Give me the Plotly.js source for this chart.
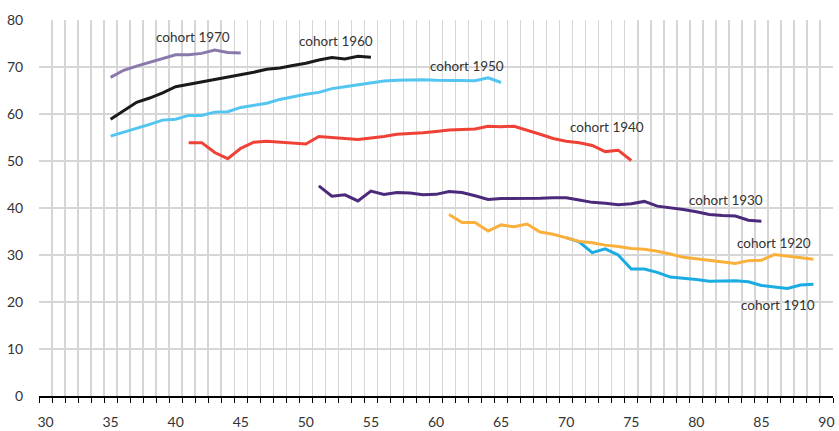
<!DOCTYPE html>
<html>
<head>
<meta charset="utf-8">
<script src="https://cdn.plot.ly/plotly-3.0.1.min.js"></script>
<style>html,body{margin:0;padding:0;background:#fff;}#chart{width:839px;height:431px;}</style>
</head>
<body>
<div id="chart"></div>
<script>
// ages (x) and percentages (y) per cohort
const age1970 = [35,36,37,38,39,40,41,42,43,44,45];
const val1970 = [67.8,69.3,70.2,71.0,71.8,72.6,72.6,72.9,73.6,73.1,73.0];

const age1960 = [35,36,37,38,39,40,41,42,43,44,45,46,47,48,49,50,51,52,53,54,55];
const val1960 = [58.9,60.7,62.5,63.4,64.5,65.8,66.3,66.9,67.4,67.9,68.4,68.9,69.5,69.8,70.3,70.8,71.5,72.0,71.7,72.3,72.1];

const age1950 = [35,36,37,38,39,40,41,42,43,44,45,46,47,48,49,50,51,52,53,54,55,56,57,58,59,60,61,62,63,64,65];
const val1950 = [55.3,56.1,57.0,57.8,58.7,58.9,59.7,59.7,60.4,60.5,61.4,61.9,62.3,63.1,63.7,64.2,64.6,65.4,65.8,66.2,66.5,67.0,67.2,67.3,67.3,67.2,67.2,67.1,67.1,67.7,66.7];

const age1940 = [41,42,43,44,45,46,47,48,49,50,51,52,53,54,55,56,57,58,59,60,61,62,63,64,65,66,67,68,69,70,71,72,73,74,75];
const val1940 = [53.9,53.9,51.8,50.5,52.7,54.0,54.2,54.0,53.8,53.6,55.2,55.0,54.7,54.6,54.9,55.2,55.7,55.8,56.0,56.3,56.6,56.7,56.8,57.4,57.3,57.4,56.6,55.7,54.8,54.2,53.9,53.3,52.0,52.3,50.1];

const age1930 = [51,52,53,54,55,56,57,58,59,60,61,62,63,64,65,66,67,68,69,70,71,72,73,74,75,76,77,78,79,80,81,82,83,84,85];
const val1930 = [44.7,42.5,42.8,41.5,43.6,42.9,43.3,43.2,42.8,42.9,43.5,43.3,42.6,41.8,42.0,42.0,42.0,42.1,42.2,42.2,41.7,41.2,41.0,40.7,40.9,41.4,40.4,40.1,39.7,39.2,38.6,38.4,38.3,37.4,37.2];

const age1920 = [61,62,63,64,65,66,67,68,69,70,71,72,73,74,75,76,77,78,79,80,81,82,83,84,85,86,87,88,89];
const val1920 = [38.6,36.9,36.9,35.1,36.4,36.0,36.6,34.9,34.4,33.7,32.9,32.6,32.1,31.8,31.4,31.2,30.8,30.2,29.5,29.2,28.9,28.5,28.2,28.8,28.9,30.1,29.8,29.5,29.1];

const age1910 = [70,71,72,73,74,75,76,77,78,79,80,81,82,83,84,85,86,87,88,89];
const val1910 = [33.7,32.8,30.5,31.3,30.0,27.0,27.0,26.3,25.3,25.1,24.8,24.4,24.5,24.5,24.3,23.5,23.2,22.9,23.6,23.8];

const cohortNames = ['cohort 1910','cohort 1920','cohort 1930','cohort 1940','cohort 1950','cohort 1960','cohort 1970'];
const xLabels = [30,35,40,45,50,55,60,65,70,75,80,85,90];
const yLabels = [0,10,20,30,40,50,60,70,80];
const yGrid = [10,20,30,40,50,60,70];

const series = [
  {x: age1910, y: val1910, color: '#1aace3'},
  {x: age1920, y: val1920, color: '#fbb03b'},
  {x: age1930, y: val1930, color: '#4b2a7b'},
  {x: age1940, y: val1940, color: '#ef4136'},
  {x: age1950, y: val1950, color: '#52c5f0'},
  {x: age1960, y: val1960, color: '#1a1a1a'},
  {x: age1970, y: val1970, color: '#8a78aa'}
];

const traces = series.map((s, i) => ({
  type: 'scatter', mode: 'lines', x: s.x, y: s.y, name: cohortNames[i],
  line: {color: s.color, width: 3}, hoverinfo: 'skip'
}));
// dummy trace for the label axes
traces.push({type:'scatter', mode:'none', x:[30], y:[0], xaxis:'x2', yaxis:'y2', hoverinfo:'skip', showlegend:false});

const font = {family: 'Lato, "Open Sans", sans-serif', size: 14, color: '#333'};

const labelPos = [
  {x: 86.3, y: 19.4}, {x: 86.0, y: 32.6}, {x: 82.3, y: 41.6}, {x: 73.1, y: 57.2},
  {x: 62.4, y: 70.2}, {x: 52.3, y: 75.6}, {x: 41.3, y: 76.3}
];
const annotations = cohortNames.map((n, i) => ({
  x: labelPos[i].x, y: labelPos[i].y, text: n, showarrow: false,
  xanchor: 'center', yanchor: 'middle', font: {family: font.family, size: 13.5, color: '#333'}
}));

const layout = {
  width: 839, height: 431,
  margin: {l: 39, r: 6, t: 20, b: 35},
  paper_bgcolor: '#fff', plot_bgcolor: '#fff',
  showlegend: false,
  font: font,
  xaxis: {
    range: [29.5, 90.5], tick0: 29.5, dtick: 1, tickmode: 'linear',
    showticklabels: false, ticks: 'outside', ticklen: 5, tickwidth: 1, tickcolor: '#000',
    showgrid: true, gridcolor: '#d6d6d6', gridwidth: 1.5,
    showline: true, linecolor: '#000', linewidth: 1.5, zeroline: false, fixedrange: true
  },
  xaxis2: {
    overlaying: 'x', anchor: 'y', side: 'bottom', range: [29.5, 90.5],
    tickmode: 'array', tickvals: xLabels, ticktext: xLabels.map(String),
    ticks: 'outside', ticklen: 13, tickcolor: 'rgba(0,0,0,0)',
    showgrid: false, zeroline: false, showline: false, tickfont: font
  },
  yaxis: {
    range: [0, 80], tickmode: 'array', tickvals: yGrid, showticklabels: false,
    showgrid: true, gridcolor: '#d6d6d6', gridwidth: 1.5, zeroline: false, showline: false, ticks: ''
  },
  yaxis2: {
    overlaying: 'y', anchor: 'x', side: 'left', range: [0, 80],
    tickmode: 'array', tickvals: yLabels, ticktext: yLabels.map(String),
    ticks: 'outside', ticklen: 12, tickcolor: 'rgba(0,0,0,0)',
    showgrid: false, zeroline: false, showline: false, tickfont: font
  },
  annotations: annotations
};

Plotly.newPlot('chart', traces, layout, {displayModeBar: false, staticPlot: true});
</script>
</body>
</html>
